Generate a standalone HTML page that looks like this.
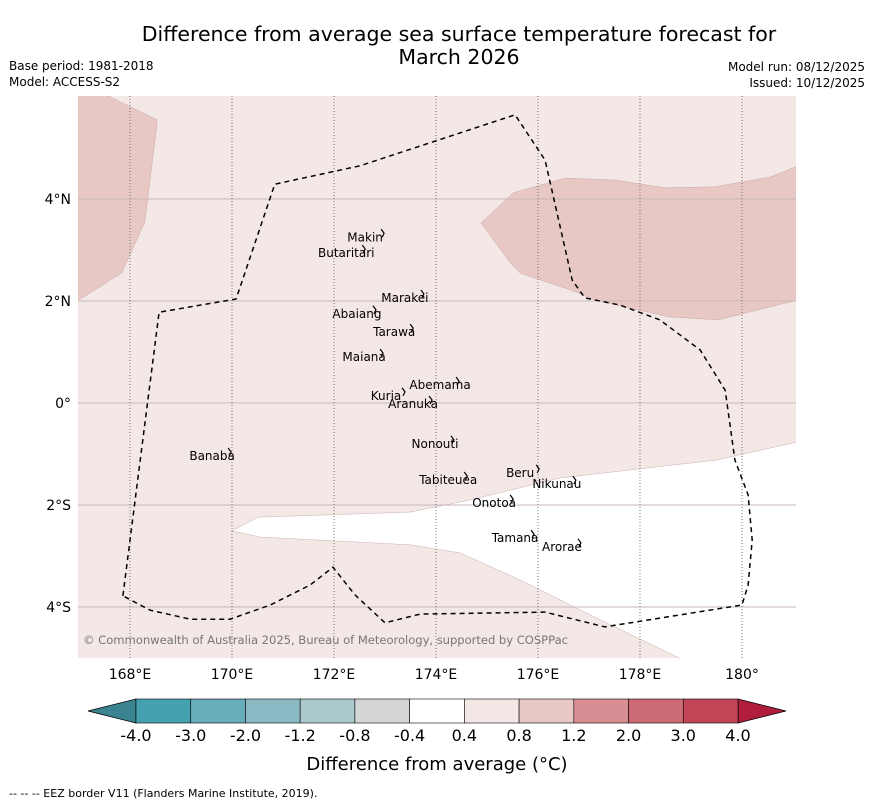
<!DOCTYPE html>
<html><head><meta charset="utf-8"><style>
body{margin:0;background:#fff;width:873px;height:804px;overflow:hidden;font-family:"Liberation Sans","DejaVu Sans",sans-serif}
svg{display:block}
</style></head><body>
<svg id="c" width="873" height="804" viewBox="0 0 873 804" xmlns="http://www.w3.org/2000/svg">
<defs><clipPath id="mc"><rect x="78" y="96" width="718" height="562"/></clipPath></defs>
<text x="459" y="41" text-anchor="middle" font-size="20.5" font-family="DejaVu Sans, sans-serif">Difference from average sea surface temperature forecast for</text>
<text x="459" y="64" text-anchor="middle" font-size="20.5" font-family="DejaVu Sans, sans-serif">March 2026</text>
<text x="9" y="70" font-size="12" font-family="DejaVu Sans, sans-serif">Base period: 1981-2018</text>
<text x="9" y="86" font-size="12" font-family="DejaVu Sans, sans-serif">Model: ACCESS-S2</text>
<text x="865" y="71" text-anchor="end" font-size="12" font-family="DejaVu Sans, sans-serif">Model run: 08/12/2025</text>
<text x="865" y="87" text-anchor="end" font-size="12" font-family="DejaVu Sans, sans-serif">Issued: 10/12/2025</text>
<g id="map" clip-path="url(#mc)"></g>
<g id="axes"></g>
<g id="cbar"></g>
<text x="437" y="770" text-anchor="middle" font-size="18" font-family="DejaVu Sans, sans-serif">Difference from average (°C)</text>
<text x="9" y="797" font-size="11" font-family="DejaVu Sans, sans-serif">--  --  -- EEZ border V11 (Flanders Marine Institute, 2019).</text>
</svg>
<script>
const lonTicks=[168,170,172,174,176,178,180];
const lonLabels=["168°E","170°E","172°E","174°E","176°E","178°E","180°"];
const latTicks=[4,2,0,-2,-4];
const latLabels=["4°N","2°N","0°","2°S","4°S"];
const cbarLevels=["-4.0","-3.0","-2.0","-1.2","-0.8","-0.4","0.4","0.8","1.2","2.0","3.0","4.0"];
const cbarColors=["#45a0b0","#68adbb","#8bbac5","#a9c9cc","#d5d6d8","#ffffff","#f4e8e7","#e8c8c4","#d98e94","#cd6b75","#c04555"];
const regionBackground=[[166.9,6.1],[181.1,6.1],[181.1,-5.1],[166.9,-5.1]];
const regionWarm1=[[166.9,1.96],[167.84,2.55],[168.29,3.55],[168.53,5.47],[168.53,5.55],[167.41,6.1],[166.9,6.1]];
const regionWarm2=[[174.88,3.53],[175.51,4.12],[176.53,4.41],[177.51,4.37],[178.49,4.22],[179.47,4.24],[180.55,4.43],[181.1,4.65],[181.1,2.02],[179.53,1.63],[178.55,1.69],[177.12,2.02],[176.63,2.22],[175.65,2.55],[175.45,2.76]];
const regionNeutral=[[170,-2.51],[170.51,-2.24],[173.49,-2.14],[174.67,-1.9],[176.43,-1.47],[179.49,-1.12],[181.1,-0.76],[181.1,-5.1],[178.98,-5.1],[177.22,-4.25],[175.65,-3.47],[174.47,-2.94],[173.49,-2.78],[170.55,-2.63]];
const eez=[[167.86,-3.78],[168.57,1.78],[170.08,2.04],[170.84,4.29],[172.51,4.65],[175.55,5.65],[176.14,4.76],[176.67,2.41],[176.92,2.06],[177.61,1.92],[178.39,1.63],[179.18,1.04],[179.67,0.25],[179.86,-1.12],[180.12,-1.8],[180.2,-2.69],[180.12,-3.57],[180,-3.96],[177.31,-4.39],[176.14,-4.1],[173.69,-4.14],[173,-4.31],[172.41,-3.76],[171.98,-3.22],[171.53,-3.57],[170.75,-3.96],[169.96,-4.24],[169.18,-4.24],[168.39,-4.06],[167.86,-3.78]];
const islandNames=["Makin","Butaritari","Marakei","Abaiang","Tarawa","Maiana","Abemama","Kuria","Aranuka","Nonouti","Banaba","Beru","Nikunau","Tabiteuea","Onotoa","Tamana","Arorae"];
const islandLon=[172.61,172.24,173.39,172.45,173.18,172.59,174.08,173.02,173.55,173.98,169.61,175.65,176.37,174.24,175.14,175.55,176.47];
const islandLat=[3.25,2.94,2.06,1.75,1.39,0.90,0.35,0.14,-0.02,-0.80,-1.04,-1.37,-1.59,-1.51,-1.96,-2.65,-2.82];
const NS="http://www.w3.org/2000/svg";
function X(lon){return 130+(lon-168)*51;}
function Y(lat){return 403-lat*51;}
function mk(p,tag,at){const e=document.createElementNS(NS,tag);for(const k in at)e.setAttribute(k,at[k]);p.appendChild(e);return e;}
function pts(a){return a.map(p=>X(p[0]).toFixed(1)+","+Y(p[1]).toFixed(1)).join(" ");}
const map=document.getElementById('map'),axes=document.getElementById('axes'),cb=document.getElementById('cbar');
let e;
e=mk(map,'polygon',{points:pts(regionBackground),fill:'#f4e8e7'});


e=mk(map,'polygon',{points:pts(regionWarm1),fill:'#e8c8c4',stroke:'#c9a9a6','stroke-width':0.5});


e=mk(map,'polygon',{points:pts(regionWarm2),fill:'#e8c8c4',stroke:'#c9a9a6','stroke-width':0.5});


e=mk(map,'polygon',{points:pts(regionNeutral),fill:'#ffffff',stroke:'#c9b0ae','stroke-width':0.5});


latTicks.forEach((t,i)=>{
 e=mk(map,'line',{x1:78,x2:796,y1:Y(t),y2:Y(t),stroke:'#c8b8b8','stroke-width':1});
 
 
 e=mk(axes,'text',{x:71,y:Y(t)+5,'text-anchor':'end','font-size':14,'font-family':'DejaVu Sans, sans-serif'});e.textContent=latLabels[i];
 
 
});
lonTicks.forEach((t,i)=>{
 e=mk(map,'line',{x1:X(t),x2:X(t),y1:96,y2:658,stroke:'#555','stroke-width':0.8,'stroke-dasharray':'1,2'});
 
 
 e=mk(axes,'text',{x:X(t),y:679,'text-anchor':'middle','font-size':14,'font-family':'DejaVu Sans, sans-serif'});e.textContent=lonLabels[i];
 
 
});
e=mk(map,'polyline',{points:pts(eez),fill:'none',stroke:'#000','stroke-width':1.5,'stroke-dasharray':'5,4'});


islandNames.forEach((n,i)=>{
 const x=X(islandLon[i]),y=Y(islandLat[i]);
 e=mk(map,'path',{d:`M${x+16},${y-8} l3,4 l-2,4`,fill:'none',stroke:'#000','stroke-width':1.2});
 
 
 e=mk(map,'text',{x:x,y:y+4,'text-anchor':'middle','font-size':12,'font-family':'DejaVu Sans, sans-serif'});e.textContent=n;
 
 
});
e=mk(map,'text',{x:83,y:644,'font-size':11.6,fill:'#777','font-family':'DejaVu Sans, sans-serif',textLength:485});e.textContent="© Commonwealth of Australia 2025, Bureau of Meteorology, supported by COSPPac";


const cx0=136,cx1=738,cy0=699,cy1=723,bw=(cx1-cx0)/cbarColors.length;
e=mk(cb,'polygon',{points:`${cx0},${cy0} ${cx0},${cy1} 88,711`,fill:'#3a838f',stroke:'#000','stroke-width':0.8});


e=mk(cb,'polygon',{points:`${cx1},${cy0} ${cx1},${cy1} 786,711`,fill:'#b01e3c',stroke:'#000','stroke-width':0.8});


cbarColors.forEach((c,i)=>{
 e=mk(cb,'rect',{x:cx0+i*bw,y:cy0,width:bw,height:cy1-cy0,fill:c,stroke:'#000','stroke-width':0.6});
 
 
});
cbarLevels.forEach((l,i)=>{
 e=mk(cb,'text',{x:cx0+i*bw,y:741,'text-anchor':'middle','font-size':16,'font-family':'DejaVu Sans, sans-serif'});e.textContent=l;
 
 
});
</script>
</body></html>
